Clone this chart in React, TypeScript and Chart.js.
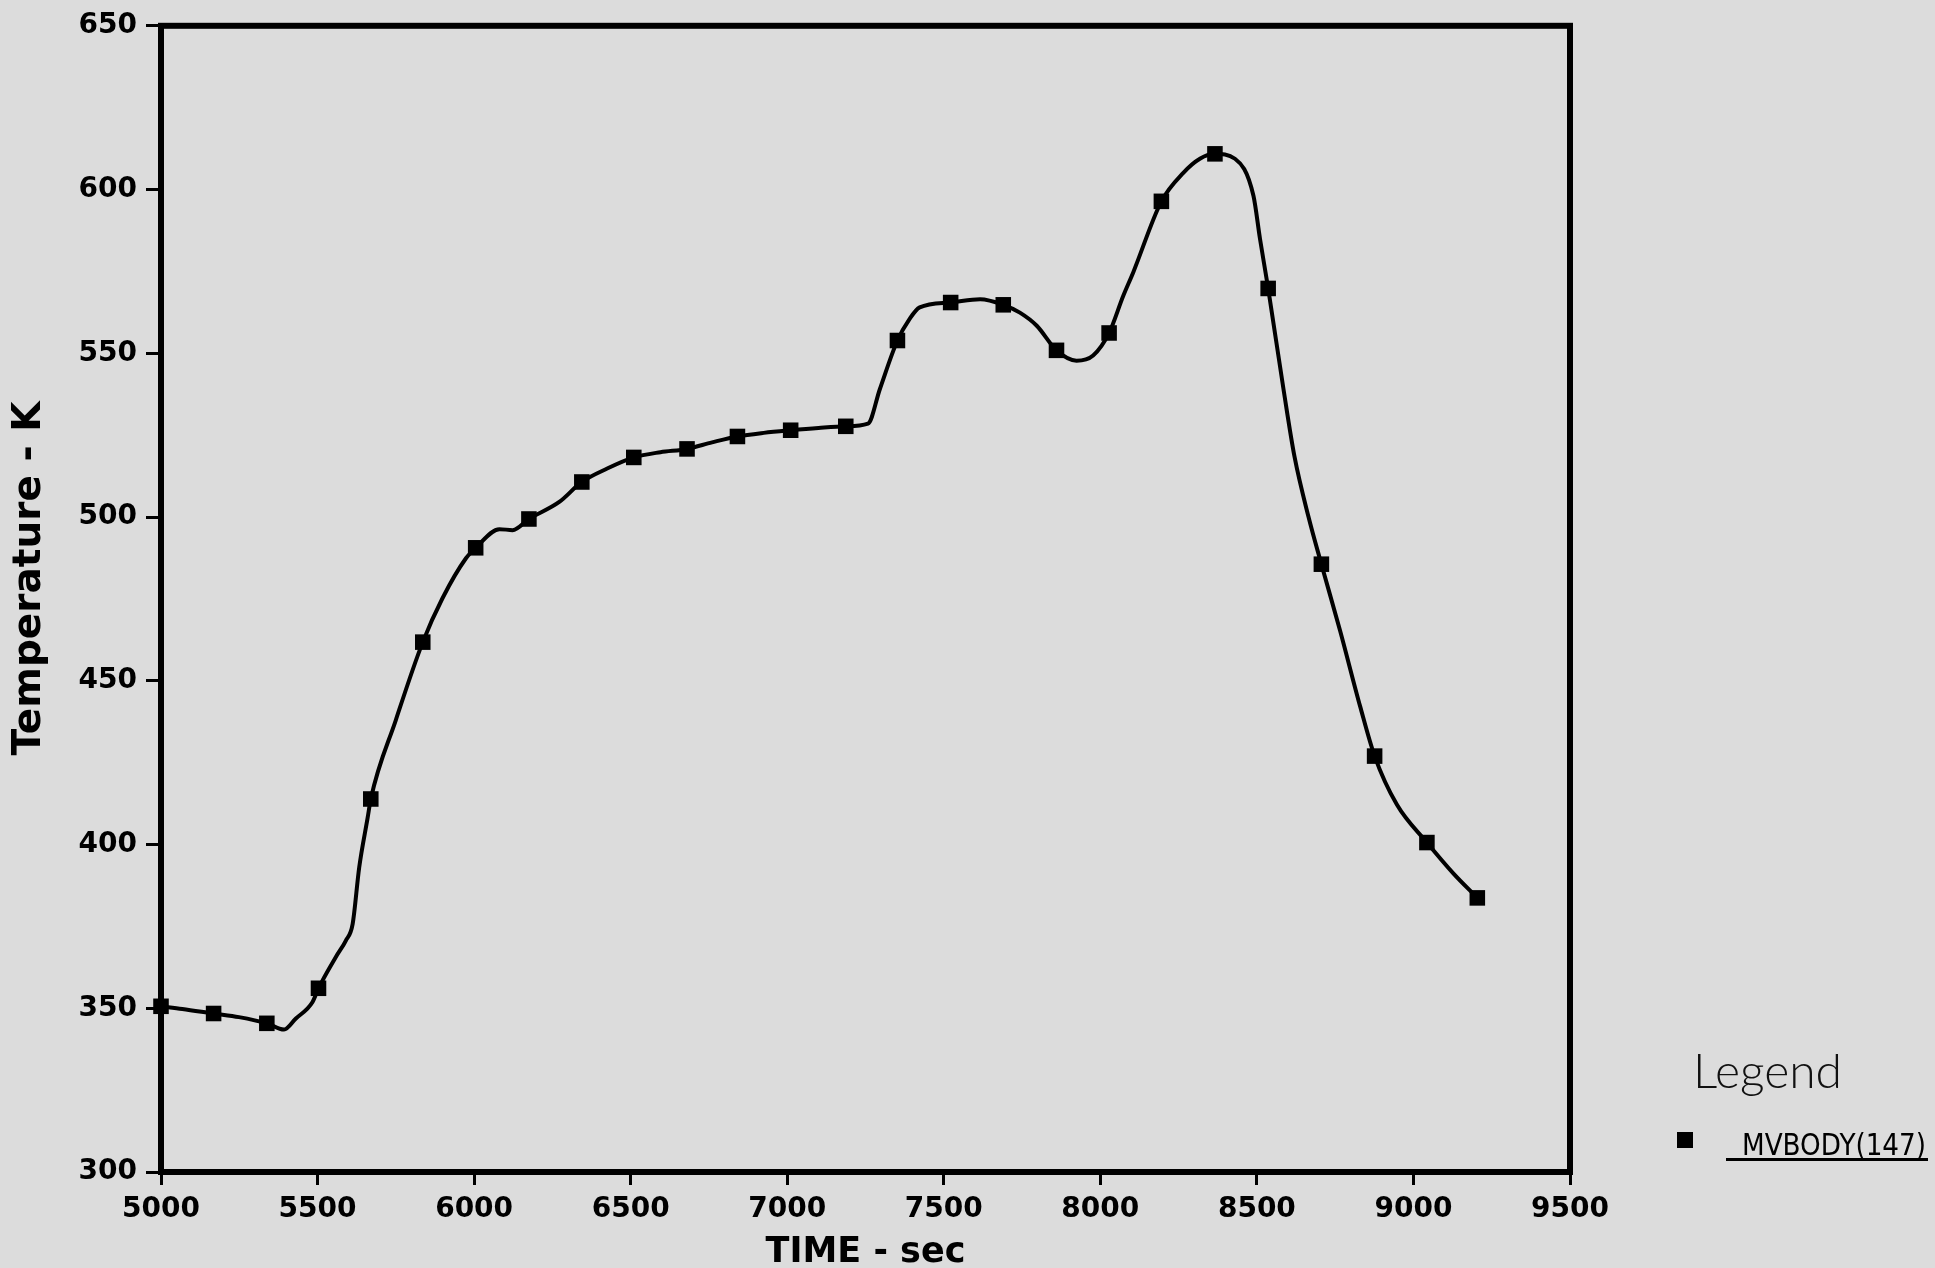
import React, { useEffect, useRef } from "react";
import { Chart, registerables } from "chart.js";

Chart.register(...registerables);

// Marker (symbol) samples of MVBODY(147)
const markerTime = [5000, 5168, 5338, 5503, 5670, 5836, 6005, 6175, 6344, 6510, 6680, 6841, 7011, 7187, 7352, 7522, 7690, 7860, 8028, 8195, 8366, 8536, 8706, 8876, 9043, 9204];
const markerTemp = [350.6, 348.4, 345.4, 356.1, 413.9, 461.8, 490.6, 499.4, 510.7, 518.2, 520.8, 524.6, 526.5, 527.7, 553.9, 565.5, 564.8, 550.9, 556.2, 596.4, 610.9, 569.8, 485.6, 427.0, 400.6, 383.7];

// Continuous trace of the same variable
const curveTime = [5000, 5068, 5168, 5249, 5338, 5393, 5430, 5484, 5503, 5558, 5590, 5612, 5633, 5660, 5670, 5750, 5836, 5899, 5974, 6005, 6081, 6123, 6175, 6272, 6344, 6425, 6510, 6595, 6680, 6760, 6841, 6925, 7011, 7100, 7187, 7258, 7296, 7352, 7391, 7423, 7522, 7616, 7690, 7743, 7797, 7860, 7924, 7977, 8028, 8073, 8105, 8195, 8265, 8318, 8366, 8430, 8489, 8510, 8536, 8585, 8620, 8665, 8706, 8766, 8830, 8876, 8947, 9043, 9128, 9204];
const curveTemp = [350.6, 349.8, 348.4, 347.3, 345.4, 343.5, 346.8, 351.9, 356.1, 365.6, 370.6, 375.7, 393.0, 408.2, 413.9, 438.0, 461.8, 475.2, 487.4, 490.6, 496.3, 496.0, 499.4, 504.6, 510.7, 514.8, 518.2, 519.8, 520.8, 522.8, 524.6, 525.7, 526.5, 527.2, 527.7, 528.5, 539.1, 553.9, 560.5, 564.0, 565.5, 566.5, 564.8, 562.4, 558.4, 550.9, 547.7, 549.3, 556.2, 567.5, 574.7, 596.4, 605.1, 609.4, 610.9, 609.4, 598.1, 584.9, 569.8, 539.0, 518.5, 500.0, 485.6, 465.2, 442.1, 427.0, 412.2, 400.6, 391.1, 383.7];

const seriesLabel = "MVBODY(147)";
const legendTitle = "Legend";
const xTitle = "TIME - sec";
const yTitle = "   Temperature - K";
const xMin = 5000, xMax = 9500, xStep = 500;
const yMin = 300, yMax = 650, yStep = 50;

const W = 1935, H = 1274;

const framePlugin = {
  id: "frame",
  beforeDatasetsDraw(chart: any) {
    const { ctx, chartArea: a } = chart;
    ctx.save();
    ctx.strokeStyle = "#000";
    ctx.lineWidth = 6;
    ctx.strokeRect(a.left, a.top, a.right - a.left, a.bottom - a.top);
    ctx.restore();
  },
};

const legendPlugin = {
  id: "customLegend",
  afterDraw(chart: any) {
    const { ctx } = chart;
    const ds = chart.data.datasets[1];
    ctx.save();
    ctx.fillStyle = "#111";
    ctx.textBaseline = "alphabetic";
    ctx.textAlign = "left";
    ctx.font = "300 48px Lato, 'Open Sans', sans-serif";
    ctx.fillText(legendTitle, 1693, 1088);
    ctx.fillStyle = "#000";
    ctx.fillRect(1677, 1132, 16, 16);
    ctx.font = "31px 'Liberation Sans Narrow', 'DejaVu Sans Condensed', 'Liberation Sans', sans-serif";
    ctx.fillText(ds.label, 1742, 1155, 184);
    ctx.fillRect(1726, 1158, 202, 3);
    ctx.restore();
  },
};

export default function App() {
  const ref = useRef<HTMLCanvasElement | null>(null);
  useEffect(() => {
    if (!ref.current) return;
    const tickFont = { family: "'DejaVu Sans', sans-serif", size: 28, weight: "bold" as const };
    const chart = new Chart(ref.current, {
      type: "line",
      data: {
        datasets: [
          {
            label: "trace",
            data: curveTime.map((t, i) => ({ x: t, y: curveTemp[i] })),
            borderColor: "#000",
            borderWidth: 4,
            pointRadius: 0,
            cubicInterpolationMode: "monotone",
            fill: false,
            clip: false as any,
          },
          {
            label: seriesLabel,
            data: markerTime.map((t, i) => ({ x: t, y: markerTemp[i] })),
            showLine: false,
            pointStyle: "rect",
            pointRadius: 11,
            pointBackgroundColor: "#000",
            pointBorderColor: "#000",
            pointBorderWidth: 0,
            clip: false as any,
          },
        ],
      },
      options: {
        responsive: false,
        animation: false,
        devicePixelRatio: 1,
        layout: { padding: { left: 0, top: 23, right: W - 1570, bottom: 0 } },
        plugins: { legend: { display: false }, tooltip: { enabled: false } },
        scales: {
          x: {
            type: "linear",
            min: xMin,
            max: xMax,
            afterFit: (s: any) => { s.height = H - 1172; },
            ticks: { stepSize: xStep, color: "#000", font: tickFont, padding: 8, maxRotation: 0, callback: (v: any) => String(v) },
            grid: { display: true, drawOnChartArea: false, drawTicks: true, tickLength: 13, color: "#000", lineWidth: 3 },
            border: { display: false },
            title: { display: true, text: xTitle, color: "#000", font: { family: "'DejaVu Sans', sans-serif", size: 35, weight: "bold" }, padding: { top: 0, bottom: 0 } },
          },
          y: {
            type: "linear",
            min: yMin,
            max: yMax,
            afterFit: (s: any) => { s.width = 161; },
            ticks: { stepSize: yStep, color: "#000", font: tickFont, padding: 9, callback: (v: any) => String(v) },
            grid: { display: true, drawOnChartArea: false, drawTicks: true, tickLength: 15, color: "#000", lineWidth: 3 },
            border: { display: false },
            title: { display: true, text: yTitle, color: "#000", font: { family: "'DejaVu Sans', sans-serif", size: 39, weight: "bold" }, padding: { top: 6, bottom: 0 } },
          },
        },
      },
      plugins: [framePlugin, legendPlugin],
    });
    return () => chart.destroy();
  }, []);
  return (
    <div style={{ position: "fixed", left: 0, top: 0, width: 1935, height: 1268, overflow: "hidden", background: "#dcdcdc" }}>
      <canvas ref={ref} width={W} height={H} style={{ display: "block" }} />
    </div>
  );
}
